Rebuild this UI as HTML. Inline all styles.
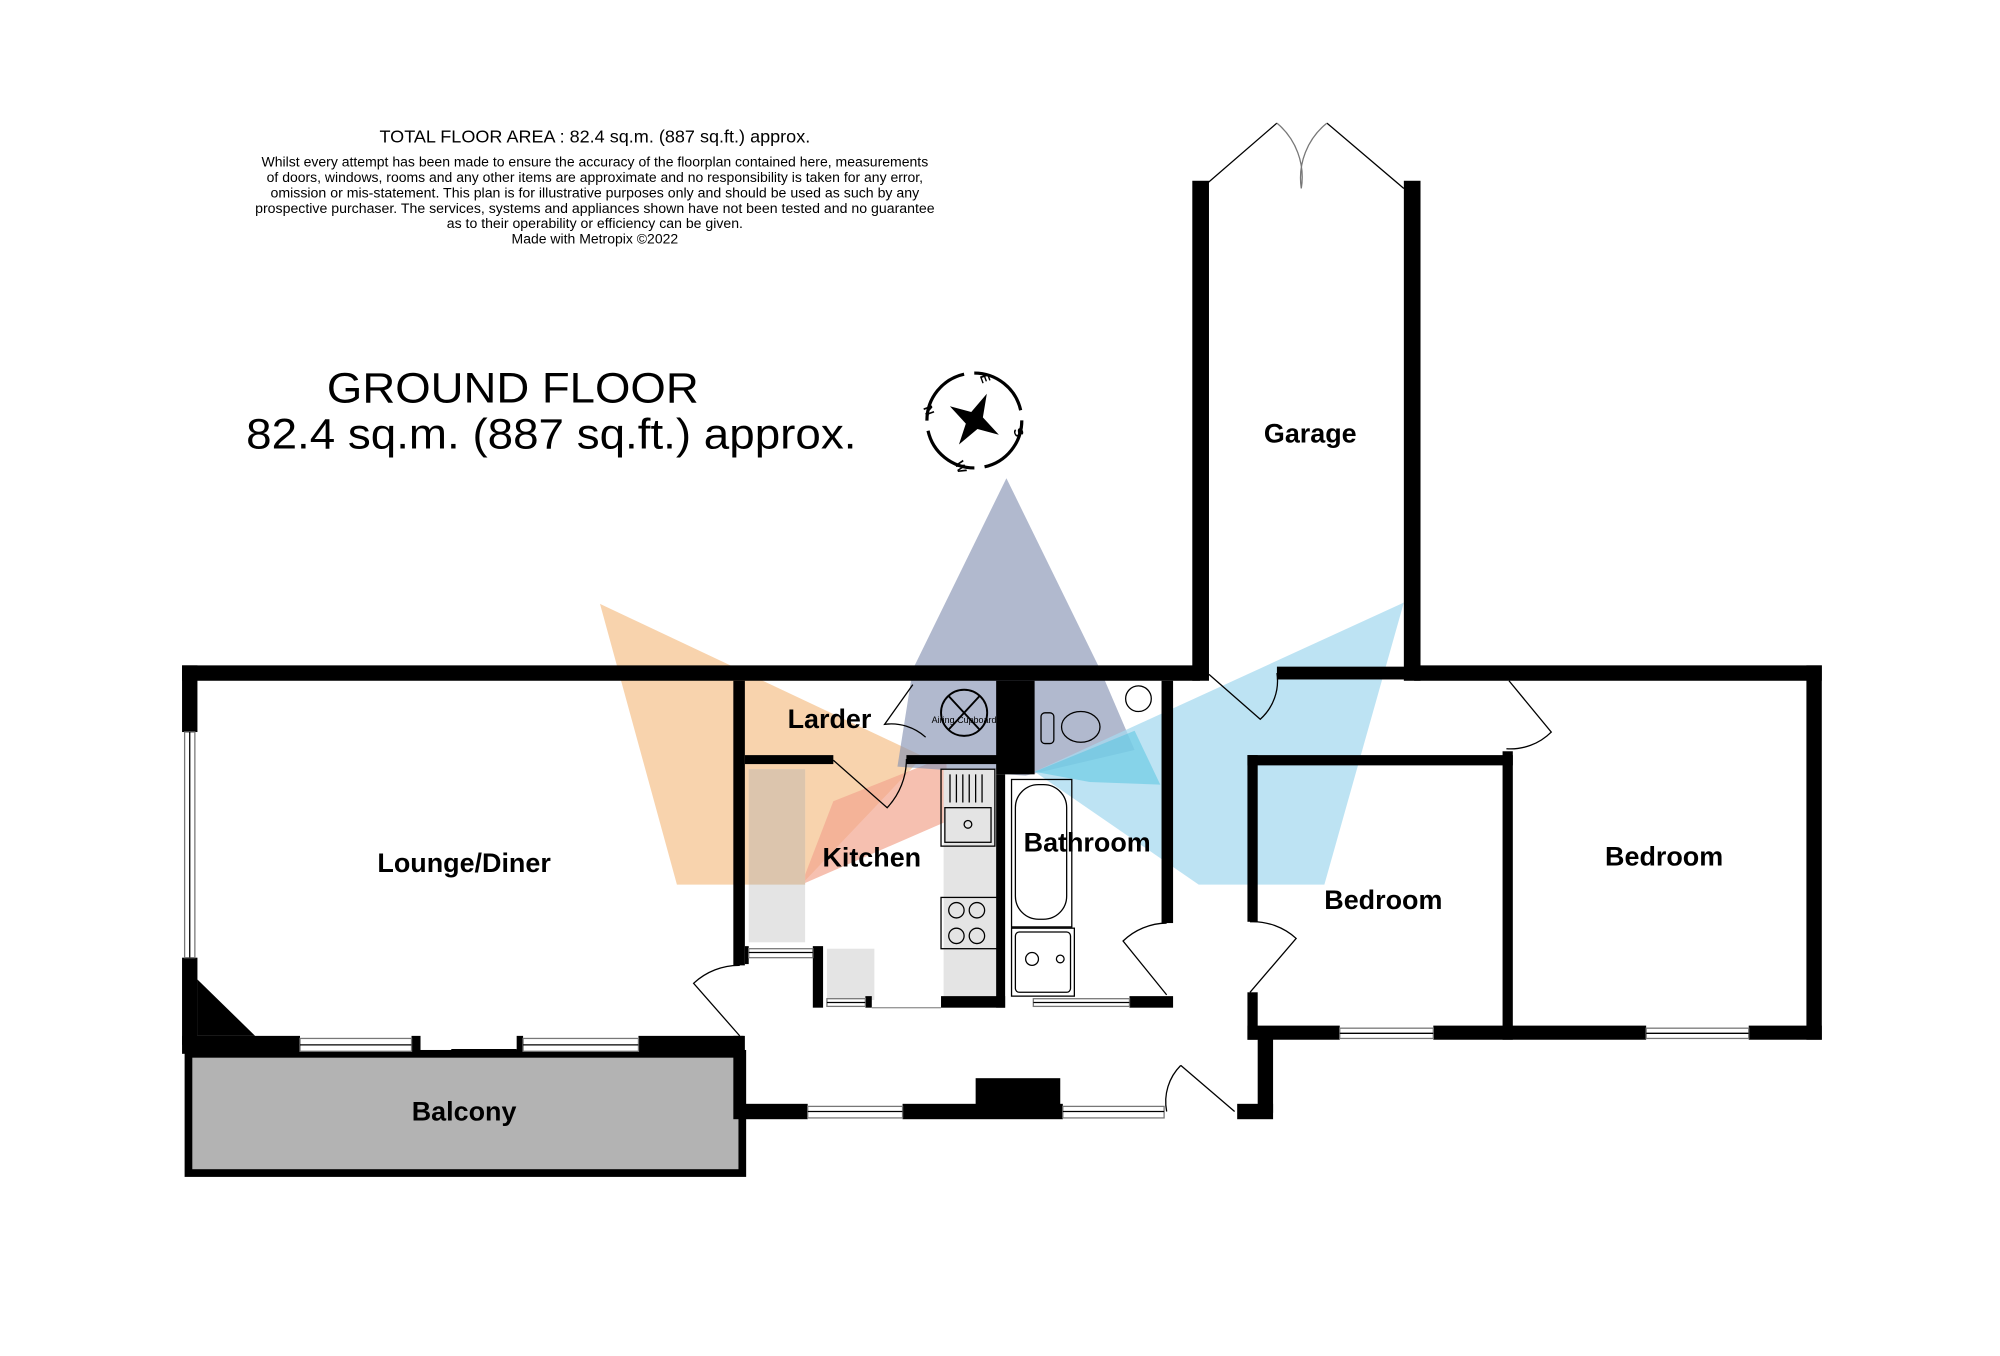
<!DOCTYPE html>
<html><head><meta charset="utf-8"><style>
html,body{margin:0;padding:0;background:#fff;}
svg{display:block;}
text{font-family:"Liberation Sans",Arial,sans-serif;}
</style></head><body>
<svg width="2000" height="1356" viewBox="0 0 1560 1057.7" preserveAspectRatio="none" xmlns="http://www.w3.org/2000/svg">
<rect width="1560" height="1058" fill="#fff"/>
<text x="464" y="111" font-size="13.5" text-anchor="middle" textLength="336" lengthAdjust="spacingAndGlyphs">TOTAL FLOOR AREA : 82.4 sq.m. (887 sq.ft.) approx.</text>
<g font-size="11" text-anchor="middle">
<text x="464" y="130" textLength="520" lengthAdjust="spacingAndGlyphs">Whilst every attempt has been made to ensure the accuracy of the floorplan contained here, measurements</text>
<text x="464" y="142" textLength="512" lengthAdjust="spacingAndGlyphs">of doors, windows, rooms and any other items are approximate and no responsibility is taken for any error,</text>
<text x="464" y="154" textLength="506" lengthAdjust="spacingAndGlyphs">omission or mis-statement. This plan is for illustrative purposes only and should be used as such by any</text>
<text x="464" y="166" textLength="530" lengthAdjust="spacingAndGlyphs">prospective purchaser. The services, systems and appliances shown have not been tested and no guarantee</text>
<text x="464" y="178" textLength="231" lengthAdjust="spacingAndGlyphs">as to their operability or efficiency can be given.</text>
<text x="464" y="190" textLength="130" lengthAdjust="spacingAndGlyphs">Made with Metropix ©2022</text>
</g>
<text x="400" y="314" font-size="33" text-anchor="middle" textLength="290" lengthAdjust="spacingAndGlyphs">GROUND FLOOR</text>
<text x="430" y="350" font-size="33" text-anchor="middle" textLength="476" lengthAdjust="spacingAndGlyphs">82.4 sq.m. (887 sq.ft.) approx.</text>
<g transform="translate(760,328)">
<circle r="37" fill="none" stroke="#000" stroke-width="2.5" stroke-dasharray="50 8"/>
<polygon points="0,-23 5,-5 22,2 5,5 -3,22 -5,5 -22,-2 -5,-5" fill="#000" transform="rotate(25)"/>
<text x="9" y="-29" font-size="10" font-weight="bold" text-anchor="middle" transform="rotate(70 9 -33)">E</text>
<text x="-35" y="-4" font-size="10" font-weight="bold" text-anchor="middle" transform="rotate(70 -35 -8)">N</text>
<text x="35" y="13" font-size="10" font-weight="bold" text-anchor="middle" transform="rotate(70 35 9)">S</text>
<text x="-10" y="40" font-size="10" font-weight="bold" text-anchor="middle" transform="rotate(70 -10 36)">W</text>
</g>
<polygon points="468,471 720,590 625,690 528,690" fill="#f5c08a" opacity="0.7"/>
<polygon points="650,625 738,590 740,640 625,690" fill="#f2a58e" opacity="0.7"/>
<polygon points="785,373 858,522 885,585 800,605 700,598 712,522" fill="#8794b4" opacity="0.65"/>
<polygon points="1095,470 807,602 935,690 1033,690" fill="#a7d9ef" opacity="0.75"/>
<polygon points="807,602 885,570 905,612 850,610" fill="#4fc4e0" opacity="0.5"/>
<rect x="584" y="600" width="44" height="135" fill="#e4e4e4"/>
<rect x="584" y="600" width="44" height="90" fill="#d9b896" opacity="0.7"/>
<rect x="645" y="740" width="37" height="40" fill="#e4e4e4"/>
<rect x="736" y="600" width="42" height="180" fill="#e4e4e4"/>
<rect x="147" y="822" width="432" height="93" fill="#b3b3b3" stroke="#000" stroke-width="6"/>
<g fill="#000">
<rect x="142" y="519" width="794" height="12"/>
<rect x="996" y="520" width="104" height="10"/>
<rect x="1103" y="519" width="318" height="12"/>
<rect x="142" y="519" width="12" height="52"/>
<rect x="142" y="747" width="12" height="68"/>
<polygon points="154,764 199,808 154,808"/>
<rect x="142" y="808" width="92" height="14"/>
<rect x="321" y="808" width="7" height="14"/>
<rect x="403" y="808" width="5" height="14"/>
<rect x="498" y="808" width="82" height="14"/>
<rect x="572" y="531" width="9" height="222"/>
<rect x="572" y="808" width="9" height="65"/>
<rect x="581" y="589" width="69" height="7"/>
<rect x="707" y="589" width="75" height="7"/>
<rect x="777" y="531" width="30" height="73"/>
<rect x="777" y="604" width="7" height="182"/>
<rect x="906" y="531" width="9" height="189"/>
<rect x="734" y="777" width="50" height="9"/>
<rect x="881" y="777" width="34" height="9"/>
<rect x="581" y="738" width="3" height="14"/>
<rect x="634" y="738" width="8" height="48"/>
<rect x="675" y="777" width="5" height="9"/>
<rect x="580" y="861" width="50" height="12"/>
<rect x="704" y="861" width="125" height="12"/>
<rect x="761" y="841" width="66" height="22"/>
<rect x="965" y="861" width="28" height="12"/>
<rect x="981" y="808" width="12" height="60"/>
<rect x="973" y="589" width="8" height="130"/>
<rect x="973" y="774" width="8" height="37"/>
<rect x="973" y="589" width="207" height="8"/>
<rect x="1172" y="586" width="8" height="225"/>
<rect x="973" y="800" width="72" height="11"/>
<rect x="1118" y="800" width="166" height="11"/>
<rect x="1364" y="800" width="57" height="11"/>
<rect x="1409" y="519" width="12" height="292"/>
<rect x="930" y="141" width="13" height="390"/>
<rect x="1095" y="141" width="13" height="390"/>
</g>
<g fill="#fff" stroke="#777" stroke-width="1">
<rect x="144" y="571" width="8" height="176"/>
<rect x="234" y="810" width="87" height="10"/>
<rect x="408" y="810" width="90" height="10"/>
<rect x="630" y="863" width="74" height="9"/>
<rect x="829" y="863" width="79" height="9"/>
<rect x="1045" y="802" width="73" height="8"/>
<rect x="1284" y="802" width="80" height="8"/>
<rect x="806" y="779" width="75" height="6"/>
<rect x="584" y="740" width="50" height="7"/>
<rect x="645" y="779" width="30" height="6"/>
</g>
<g stroke="#000" stroke-width="1" fill="none">
<line x1="148" y1="571" x2="148" y2="747"/>
<line x1="234" y1="815" x2="321" y2="815"/><line x1="408" y1="815" x2="498" y2="815"/>
<line x1="630" y1="867" x2="704" y2="867"/><line x1="829" y1="867" x2="908" y2="867"/>
<line x1="1045" y1="806" x2="1118" y2="806"/><line x1="1284" y1="806" x2="1364" y2="806"/>
<line x1="806" y1="782" x2="881" y2="782"/><line x1="584" y1="743" x2="634" y2="743"/><line x1="645" y1="782" x2="675" y2="782"/>
<line x1="352" y1="819" x2="403" y2="819" stroke-width="1.5"/>
<line x1="680" y1="786" x2="734" y2="786" stroke="#999"/>
<path d="M577,808 L541,767 A52,52 0 0 1 577,753"/>
<path d="M650,593 L692,630 A55,55 0 0 0 707,592"/>
<path d="M712,534 L690,565 A40,40 0 0 1 722,575"/>
<path d="M910,776 L876,734 A50,50 0 0 1 910,720"/>
<path d="M975,774 L1011,732 A50,50 0 0 0 975,719"/>
<path d="M921,831 L963,867" /><path d="M921,831 A40,40 0 0 0 910,867"/>
<path d="M943,526 L983,561 A40,40 0 0 0 996,525"/>
<path d="M1177,531 L1210,571 A45,45 0 0 1 1175,584"/>
<path d="M937,147 L996,96 M1035,96 L1095,147"/>
<path d="M996,96 A55,55 0 0 1 1015,147 M1035,96 A55,55 0 0 0 1015,147" stroke="#777"/>
<rect x="734" y="600" width="42" height="60"/>
<rect x="737" y="630" width="36" height="27"/>
<circle cx="755" cy="643" r="3"/>
<path d="M741,604v22M746,604v22M751,604v22M756,604v22M761,604v22M766,604v22"/>
<rect x="734" y="700" width="44" height="40"/>
<circle cx="746" cy="710" r="6"/><circle cx="762" cy="710" r="6"/><circle cx="746" cy="730" r="6"/><circle cx="762" cy="730" r="6"/>
<rect x="789" y="608" width="47" height="115"/>
<rect x="792" y="612" width="40" height="105" rx="18"/>
<rect x="789" y="724" width="49" height="53"/>
<rect x="792" y="727" width="43" height="47" rx="3"/>
<circle cx="805" cy="748" r="5"/><circle cx="827" cy="748" r="3"/>
<ellipse cx="843" cy="567" rx="15" ry="12"/>
<rect x="812" y="556" width="10" height="24" rx="3"/>
<circle cx="888" cy="545" r="10"/>
<circle cx="752" cy="556" r="18" stroke-width="1.5"/>
<path d="M740,543 L764,569 M764,543 L740,569" stroke-width="1.5"/>
</g>
<text x="752" y="564" font-size="7" text-anchor="middle">Airing Cupboard</text>
<g font-size="21" font-weight="bold" text-anchor="middle">
<text x="362" y="680">Lounge/Diner</text>
<text x="647" y="568">Larder</text>
<text x="680" y="676">Kitchen</text>
<text x="848" y="664">Bathroom</text>
<text x="1022" y="345">Garage</text>
<text x="1079" y="709">Bedroom</text>
<text x="1298" y="675">Bedroom</text>
<text x="362" y="874">Balcony</text>
</g>
</svg>
</body></html>
